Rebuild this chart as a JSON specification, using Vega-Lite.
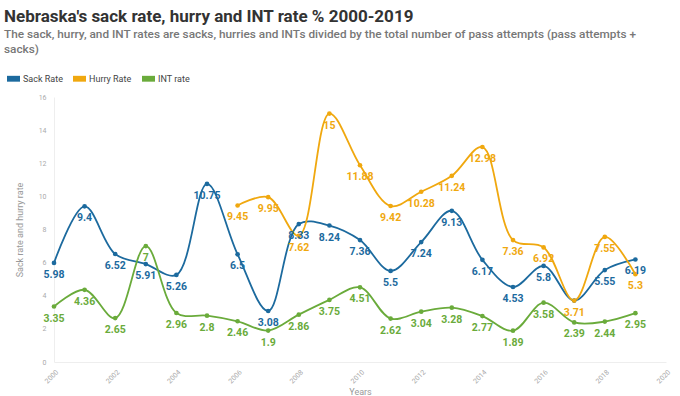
{
  "$schema": "https://vega.github.io/schema/vega-lite/v6.json",
  "width": 612,
  "height": 265,
  "autosize": {"type": "none"},
  "padding": {"left": 54, "top": 97, "right": 14, "bottom": 34},
  "config": {"font": "Roboto", "view": {"stroke": null}},
  "title": {
    "text": "Nebraska's sack rate, hurry and INT rate % 2000-2019",
    "subtitle": ["The sack, hurry, and INT rates are sacks, hurries and INTs divided by the total number of pass attempts (pass attempts +", "sacks)"],
    "anchor": "start",
    "frame": "bounds",
    "dx": -3,
    "fontSize": 17,
    "fontWeight": "bold",
    "color": "#333333",
    "subtitleFontSize": 11.8,
    "subtitleFontWeight": 500,
    "subtitleColor": "#777777",
    "subtitlePadding": 3,
    "subtitleLineHeight": 15,
    "offset": 15
  },
  "data": {"values": [
    {"year": 2000, "series": "Sack Rate", "value": 5.98},
    {"year": 2001, "series": "Sack Rate", "value": 9.4},
    {"year": 2002, "series": "Sack Rate", "value": 6.52},
    {"year": 2003, "series": "Sack Rate", "value": 5.91},
    {"year": 2004, "series": "Sack Rate", "value": 5.26},
    {"year": 2005, "series": "Sack Rate", "value": 10.75},
    {"year": 2006, "series": "Sack Rate", "value": 6.5},
    {"year": 2007, "series": "Sack Rate", "value": 3.08},
    {"year": 2008, "series": "Sack Rate", "value": 8.33},
    {"year": 2009, "series": "Sack Rate", "value": 8.24},
    {"year": 2010, "series": "Sack Rate", "value": 7.36},
    {"year": 2011, "series": "Sack Rate", "value": 5.5},
    {"year": 2012, "series": "Sack Rate", "value": 7.24},
    {"year": 2013, "series": "Sack Rate", "value": 9.13},
    {"year": 2014, "series": "Sack Rate", "value": 6.17},
    {"year": 2015, "series": "Sack Rate", "value": 4.53},
    {"year": 2016, "series": "Sack Rate", "value": 5.8},
    {"year": 2017, "series": "Sack Rate", "value": 3.71, "nolabel": true},
    {"year": 2018, "series": "Sack Rate", "value": 5.55},
    {"year": 2019, "series": "Sack Rate", "value": 6.19},
    {"year": 2006, "series": "Hurry Rate", "value": 9.45},
    {"year": 2007, "series": "Hurry Rate", "value": 9.95},
    {"year": 2008, "series": "Hurry Rate", "value": 7.62},
    {"year": 2009, "series": "Hurry Rate", "value": 15},
    {"year": 2010, "series": "Hurry Rate", "value": 11.88},
    {"year": 2011, "series": "Hurry Rate", "value": 9.42},
    {"year": 2012, "series": "Hurry Rate", "value": 10.28},
    {"year": 2013, "series": "Hurry Rate", "value": 11.24},
    {"year": 2014, "series": "Hurry Rate", "value": 12.98},
    {"year": 2015, "series": "Hurry Rate", "value": 7.36},
    {"year": 2016, "series": "Hurry Rate", "value": 6.92},
    {"year": 2017, "series": "Hurry Rate", "value": 3.71},
    {"year": 2018, "series": "Hurry Rate", "value": 7.55},
    {"year": 2019, "series": "Hurry Rate", "value": 5.3},
    {"year": 2000, "series": "INT rate", "value": 3.35},
    {"year": 2001, "series": "INT rate", "value": 4.36},
    {"year": 2002, "series": "INT rate", "value": 2.65},
    {"year": 2003, "series": "INT rate", "value": 7},
    {"year": 2004, "series": "INT rate", "value": 2.96},
    {"year": 2005, "series": "INT rate", "value": 2.8},
    {"year": 2006, "series": "INT rate", "value": 2.46},
    {"year": 2007, "series": "INT rate", "value": 1.9},
    {"year": 2008, "series": "INT rate", "value": 2.86},
    {"year": 2009, "series": "INT rate", "value": 3.75},
    {"year": 2010, "series": "INT rate", "value": 4.51},
    {"year": 2011, "series": "INT rate", "value": 2.62},
    {"year": 2012, "series": "INT rate", "value": 3.04},
    {"year": 2013, "series": "INT rate", "value": 3.28},
    {"year": 2014, "series": "INT rate", "value": 2.77},
    {"year": 2015, "series": "INT rate", "value": 1.89},
    {"year": 2016, "series": "INT rate", "value": 3.58},
    {"year": 2017, "series": "INT rate", "value": 2.39},
    {"year": 2018, "series": "INT rate", "value": 2.44},
    {"year": 2019, "series": "INT rate", "value": 2.95}
  ]},
  "encoding": {
    "x": {
      "field": "year", "type": "quantitative",
      "scale": {"domain": [2000, 2020], "nice": false, "zero": false},
      "axis": {
        "title": "Years", "format": "d", "values": [2000, 2002, 2004, 2006, 2008, 2010, 2012, 2014, 2016, 2018, 2020],
        "labelAngle": -45, "labelFontSize": 7, "labelColor": "#aaaaaa", "labelPadding": 6,
        "ticks": false, "grid": false, "domainColor": "#eeeeee",
        "titleFontSize": 9, "titleColor": "#999999", "titleFontWeight": "normal", "titlePadding": 3
      }
    },
    "y": {
      "field": "value", "type": "quantitative",
      "scale": {"domain": [0, 16], "nice": false},
      "axis": {
        "title": "Sack rate and hurry rate", "values": [0, 2, 4, 6, 8, 10, 12, 14, 16],
        "labelFontSize": 7, "labelColor": "#aaaaaa", "labelPadding": 8,
        "ticks": false, "grid": false, "domainColor": "#eeeeee",
        "titleFontSize": 9, "titleColor": "#999999", "titleFontWeight": "normal", "titlePadding": 14
      }
    },
    "color": {
      "field": "series", "type": "nominal",
      "scale": {"domain": ["Sack Rate", "Hurry Rate", "INT rate"], "range": ["#1c6a9e", "#f0a80f", "#6aab3b"]},
      "legend": {
        "title": null, "orient": "none", "legendX": -47, "legendY": -25, "direction": "horizontal",
        "symbolType": "M-1,-0.45H1V0.45H-1Z", "symbolSize": 169, "symbolStrokeWidth": 0,
        "labelFontSize": 9, "labelColor": "#444444", "labelOffset": 3, "columnPadding": 10
      }
    }
  },
  "layer": [
    {"mark": {"type": "line", "interpolate": "catmull-rom", "strokeWidth": 1.8}},
    {"mark": {"type": "point", "filled": true, "size": 22, "opacity": 1}},
    {
      "transform": [{"filter": "!datum.nolabel"}],
      "mark": {"type": "text", "dy": 12, "fontSize": 10.5, "fontWeight": "bold"},
      "encoding": {"text": {"field": "value", "type": "quantitative"}}
    }
  ]
}
